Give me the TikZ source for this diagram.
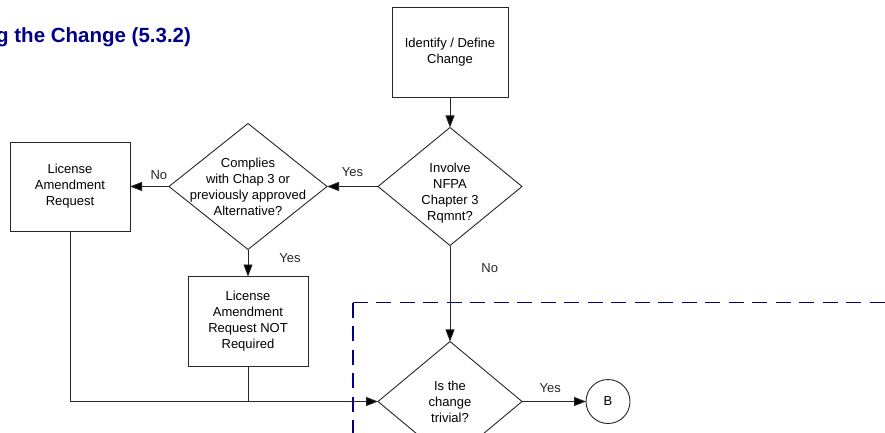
\documentclass[tikz,border=0pt]{standalone}
\usepackage{fontspec}
\setmainfont{Liberation Sans}
\usepackage{xcolor}
\usetikzlibrary{arrows.meta, positioning, calc, shapes.geometric}
\definecolor{navyline}{RGB}{0,0,135}
\newcommand{\boxfont}{\fontsize{13pt}{16pt}\selectfont}

\begin{document}
\begin{tikzpicture}[
    x=1pt, y=-1pt,
    process/.style={rectangle, draw=black!85, line width=0.9pt, minimum width=120pt, minimum height=90pt, align=center, inner sep=0pt, outer sep=0pt, font=\boxfont},
    decision/.style={diamond, draw=black!85, line width=0.9pt, inner sep=0pt, outer sep=0pt},
    offpage/.style={circle, draw=black!85, line width=0.9pt, minimum size=44pt, inner sep=0pt, outer sep=0pt, font=\boxfont},
    arrow/.style={-{Triangle[length=12pt, width=9pt, fill=black]}, line width=0.9pt, color=black!85},
    flow/.style={line width=0.9pt, color=black!85},
    answer/.style={font=\boxfont, inner sep=0pt},
    title_label/.style={font=\fontsize{20.5pt}{24pt}\selectfont\bfseries, text=navyline, inner sep=0pt, anchor=base west},
    boundary/.style={draw=navyline, line width=1.9pt, dash pattern=on 15pt off 8.5pt}
]
    \useasboundingbox (0,0) rectangle (885,433);
    \clip (0,0) rectangle (885,433);

    % ============================================================
    % TITLE AND SCREENING BOUNDARY
    % ============================================================
    \node[title_label] (title) at (-4,43) {g the Change (5.3.2)};

    \coordinate (scope-corner) at (352.7,302.5);
    \draw[boundary] (scope-corner) -- (900,302.5) (scope-corner) -- (352.7,450);

    % ============================================================
    % MAIN COLUMN
    % ============================================================
    \node[process, minimum width=116pt] (ident) at (450,52.5) {Identify / Define\\Change};
    \node[decision, minimum width=144pt, minimum height=118pt, below=30pt of ident,
          label={[name=invol-txt, font=\boxfont, align=center, yshift=-7pt]center:{Involve\\NFPA\\Chapter 3\\Rqmnt?}}] (invol) {};
    \node[decision, minimum width=144pt, minimum height=120pt, below=96pt of invol,
          label={[name=triv-txt, font=\boxfont, align=center]center:{Is the\\change\\trivial?}}] (triv) {};
    \node[offpage, right=64pt of triv] (endB) {B};

    % ============================================================
    % LEFT BRANCH
    % ============================================================
    \node[decision, minimum width=158pt, minimum height=126pt, left=51pt of invol,
          label={[name=comply-txt, font=\boxfont, align=center]center:{Complies\\with Chap 3 or\\previously approved\\Alternative?}}] (comply) {};
    \node[process, minimum height=89pt, left=39pt of comply] (lar) {License\\Amendment\\Request};
    \node[process, below=27pt of comply] (larnot) {License\\Amendment\\Request NOT\\Required};

    \coordinate (join) at (lar |- triv);

    % Connections
    \draw[arrow] (ident) -- (invol);
    \draw[arrow] (invol.west) -- node[answer, above=9.5pt] (yes-comply) {Yes} (comply.east);
    \draw[arrow] (comply.west) -- node[answer, pos=0.26, above=6pt] (no-lar) {No} (lar.east);
    \draw[arrow] (comply) -- node[answer, pos=0.33, right=31pt] (yes-larnot) {Yes} (larnot);
    \draw[arrow] (invol) -- node[answer, pos=0.24, right=31pt] (no-triv) {No} (triv);
    \draw[arrow] (triv) -- node[answer, pos=0.44, above=8.5pt] (yes-B) {Yes} (endB);
    \draw[flow] (lar) -- (join);
    \draw[flow] (larnot) -- (larnot |- triv);
    \draw[arrow] (join) -- (triv.west);

\end{tikzpicture}
\end{document}
